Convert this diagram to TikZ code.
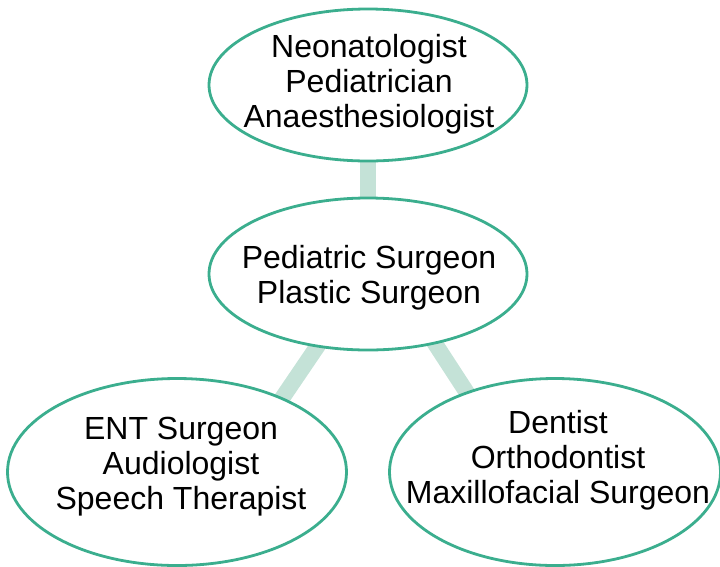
\documentclass[tikz,border=0pt]{standalone}
\usepackage{fontspec}
\setmainfont{Liberation Sans}
\usetikzlibrary{shapes.geometric,backgrounds}
\definecolor{rim}{HTML}{3BAE8E}
\definecolor{link}{HTML}{C4E2D7}
\tikzset{
  bubble/.style={ellipse, draw=rim, line width=2.8pt, fill=white,
    inner sep=0pt, outer sep=0pt},
  label text/.style={align=center, inner sep=0pt,
    font=\fontsize{32}{35}\selectfont},
  connector/.style={draw=link, line width=16pt, line cap=butt,
    shorten <=-10pt, shorten >=-10pt}
}
\begin{document}
\begin{tikzpicture}[x=1pt, y=-1pt]
  \useasboundingbox (0,0) rectangle (720,566);
  \clip (0,0) rectangle (720,566);

  % ellipses
  \node[bubble, minimum width=318pt, minimum height=152pt] (top) at (368,85) {};
  \node[bubble, minimum width=318pt, minimum height=152pt] (mid) at (368,274) {};
  \node[bubble, minimum width=339pt, minimum height=187pt] (ent) at (177,472) {};
  \node[bubble, minimum width=331pt, minimum height=187pt] (dent) at (555,472) {};

  % texts
  \node[label text] (toptext) at (369,84) {Neonatologist\\Pediatrician\\Anaesthesiologist};
  \node[label text] (midtext) at (369,278) {Pediatric Surgeon\\Plastic Surgeon};
  \node[label text] (enttext) at (181,467) {ENT Surgeon\\Audiologist\\Speech Therapist};
  \node[label text] (denttext) at (558,460) {Dentist\\Orthodontist\\Maxillofacial Surgeon};

  % connectors behind the ellipses
  \begin{scope}[on background layer]
    \draw[connector] (top.south) -- (mid.north);
    \draw[connector] (mid.235) -- (ent.35.6);
    \draw[connector] (mid.314.6) -- (dent.138.1);
  \end{scope}
\end{tikzpicture}
\end{document}
